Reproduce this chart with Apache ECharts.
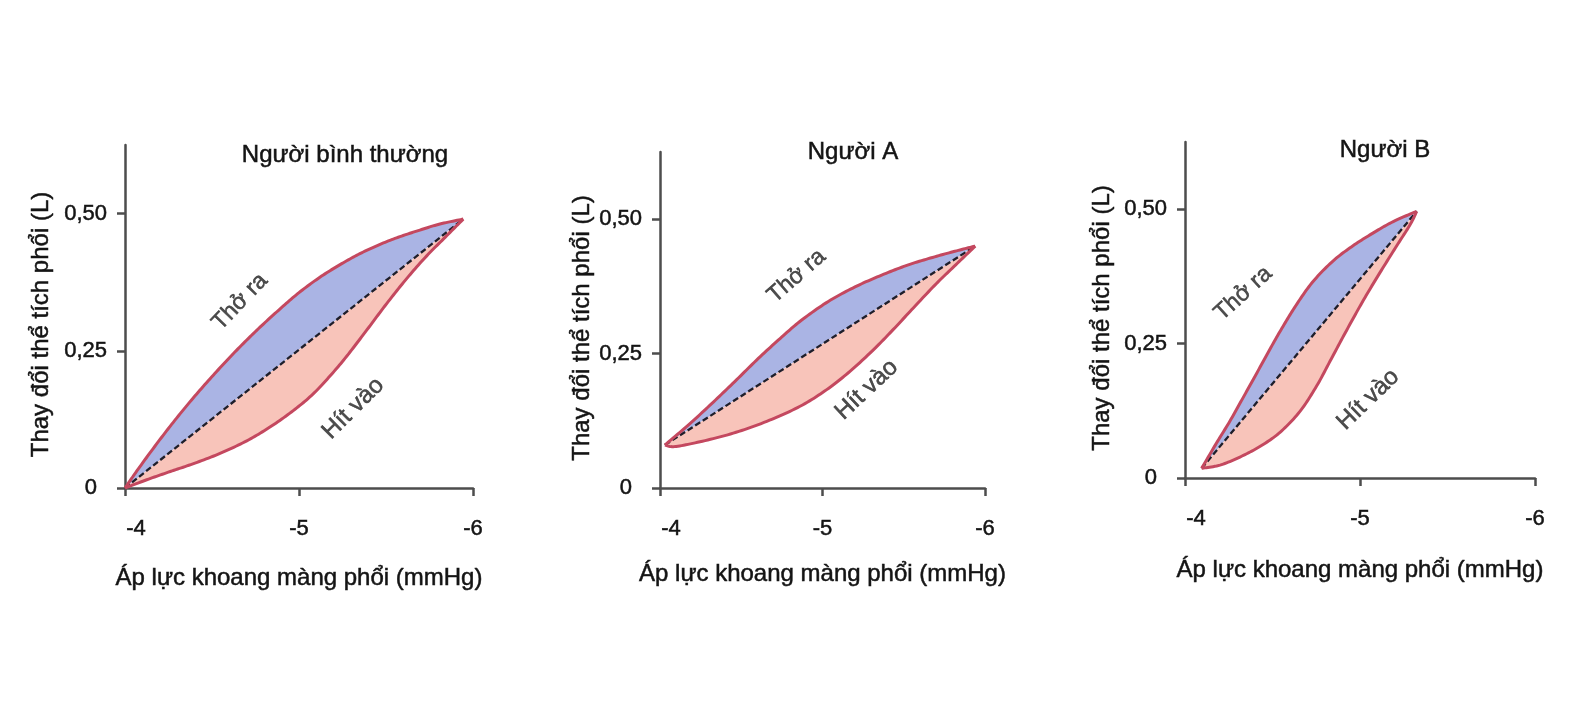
<!DOCTYPE html>
<html><head><meta charset="utf-8">
<script src="https://cdn.jsdelivr.net/npm/echarts@6/dist/echarts.min.js"></script>
<style>html,body{margin:0;padding:0;background:#fff}#c{width:1571px;height:703px}</style>
</head><body><div id="c"></div>
<script>
// ---------- data ----------
const xTicks = [-4, -5, -6];
const yTicks = [0, 0.25, 0.5];
const panelTitles = ['Người bình thường', 'Người A', 'Người B'];
const xAxisTitle = 'Áp lực khoang màng phổi (mmHg)';
const yAxisTitle = 'Thay đổi thể tích phổi (L)';
const curveLabels = ['Thở ra', 'Hít vào'];

// Người bình thường
const normalExhale = [[-4.0,0.0],[-4.086,0.039],[-4.2,0.088],[-4.316,0.135],[-4.43,0.178],[-4.546,0.219],[-4.66,0.257],[-4.776,0.293],[-4.89,0.326],[-5.0,0.356],[-5.12,0.384],[-5.236,0.407],[-5.35,0.427],[-5.466,0.444],[-5.58,0.458],[-5.695,0.470],[-5.81,0.481],[-5.944,0.490]];
const normalInhale = [[-4.0,0.0],[-4.125,0.015],[-4.26,0.030],[-4.39,0.044],[-4.546,0.063],[-4.70,0.086],[-4.833,0.111],[-4.967,0.141],[-5.08,0.171],[-5.178,0.204],[-5.274,0.240],[-5.39,0.288],[-5.504,0.336],[-5.62,0.382],[-5.734,0.423],[-5.85,0.460],[-5.944,0.490]];
const normalLabelPos = [[-4.661,0.339],[-5.312,0.145]];

// Người A
const aExhale = [[-4.03,0.080],[-4.174,0.117],[-4.318,0.157],[-4.46,0.198],[-4.605,0.241],[-4.75,0.281],[-4.87,0.312],[-5.036,0.347],[-5.2,0.374],[-5.364,0.396],[-5.528,0.415],[-5.69,0.430],[-5.836,0.442],[-5.94,0.450]];
const aInhale = [[-4.03,0.080],[-4.09,0.077],[-4.246,0.086],[-4.451,0.102],[-4.657,0.124],[-4.862,0.152],[-5.026,0.183],[-5.169,0.217],[-5.313,0.257],[-5.436,0.295],[-5.559,0.335],[-5.70,0.380],[-5.83,0.418],[-5.94,0.450]];
const aLabelPos = [[-4.841,0.394],[-5.272,0.183]];

// Người B
const bExhale = [[-4.095,0.018],[-4.18,0.065],[-4.257,0.106],[-4.333,0.150],[-4.41,0.195],[-4.486,0.240],[-4.56,0.282],[-4.64,0.324],[-4.733,0.366],[-4.847,0.404],[-4.96,0.432],[-5.076,0.456],[-5.19,0.477],[-5.324,0.496]];
const bInhale = [[-4.095,0.018],[-4.2,0.024],[-4.314,0.039],[-4.43,0.059],[-4.543,0.085],[-4.657,0.124],[-4.752,0.171],[-4.83,0.218],[-4.924,0.275],[-5.02,0.331],[-5.114,0.382],[-5.21,0.432],[-5.286,0.471],[-5.324,0.496]];
const bLabelPos = [[-4.333,0.343],[-5.047,0.146]];

// ---------- style ----------
const FONT = 'Liberation Sans, Arial, sans-serif';
const TXT = '#141414';
const AXIS = '#4d4d4d';
const BLUE = '#aab4e4';
const PINK = '#f8c4ba';
const RED = '#c4485f';
const heavy = {textBorderColor: TXT, textBorderWidth: 0.5};

const panels = [
  {grid:{left:125, top:145, width:348, height:343}, exhale:normalExhale, inhale:normalInhale, lab:normalLabelPos, rot:[46,45], xGap:78, yGap:72, title:{left:345, top:143}},
  {grid:{left:660, top:152, width:325, height:336}, exhale:aExhale, inhale:aInhale, lab:aLabelPos, rot:[41,43], xGap:74, yGap:66, title:{left:853, top:140}},
  {grid:{left:1185, top:142, width:350, height:336}, exhale:bExhale, inhale:bInhale, lab:bLabelPos, rot:[42,44], xGap:80, yGap:71, title:{left:1385, top:138}}
];

function spline(pts) {
  const out = [pts[0]];
  const n = pts.length, steps = 12;
  for (let i = 0; i < n - 1; i++) {
    const p0 = pts[Math.max(i - 1, 0)], p1 = pts[i], p2 = pts[i + 1], p3 = pts[Math.min(i + 2, n - 1)];
    for (let t = 1; t <= steps; t++) {
      const s = t / steps, s2 = s * s, s3 = s2 * s;
      const f = k => 0.5 * (2 * p1[k] + (-p0[k] + p2[k]) * s + (2 * p0[k] - 5 * p1[k] + 4 * p2[k] - p3[k]) * s2 + (-p0[k] + 3 * p1[k] - 3 * p2[k] + p3[k]) * s3);
      out.push([f(0), f(1)]);
    }
  }
  return out;
}

const option = {
  backgroundColor: '#fff',
  animation: false,
  title: panels.map((p, i) => ({
    text: panelTitles[i], left: p.title.left, top: p.title.top, textAlign: 'center', padding: 0,
    textStyle: Object.assign({fontFamily: FONT, fontSize: 24, fontWeight: 'normal', color: TXT}, heavy)
  })),
  grid: panels.map(p => Object.assign({outerBoundsMode: 'none', containLabel: false}, p.grid)),
  xAxis: panels.map((p, i) => ({
    type: 'value', gridIndex: i, inverse: true, min: -6, max: -4, interval: 1,
    name: xAxisTitle, nameLocation: 'middle', nameGap: p.xGap,
    nameTextStyle: Object.assign({fontFamily: FONT, fontSize: 24, color: TXT}, heavy),
    splitLine: {show: false},
    axisLine: {show: true, onZero: false, lineStyle: {color: AXIS, width: 2.5}},
    axisTick: {show: true, length: 8, lineStyle: {color: AXIS, width: 2.5}, customValues: xTicks},
    axisLabel: Object.assign({margin: 30, fontFamily: FONT, fontSize: 22, color: TXT, customValues: xTicks,
      formatter: v => v === -4 ? '{a|-4}' : String(v),
      rich: {a: Object.assign({padding: [0, 0, 0, 22], fontFamily: FONT, fontSize: 22, color: TXT}, heavy)}}, heavy)
  })),
  yAxis: panels.map((p, i) => ({
    type: 'value', gridIndex: i, min: 0, max: 0.625,
    name: yAxisTitle, nameLocation: 'middle', nameGap: p.yGap,
    nameTextStyle: Object.assign({fontFamily: FONT, fontSize: 24, color: TXT, padding: [0, 16, 0, 0]}, heavy),
    splitLine: {show: false},
    axisLine: {show: true, onZero: false, lineStyle: {color: AXIS, width: 2.5}},
    axisTick: {show: true, length: 8, lineStyle: {color: AXIS, width: 2.5}, customValues: yTicks},
    axisLabel: Object.assign({margin: 18, fontFamily: FONT, fontSize: 22, color: TXT, customValues: yTicks,
      formatter: v => v === 0 ? '{z|0}' : v.toFixed(2).replace('.', ','),
      rich: {z: Object.assign({padding: [0, 10, 0, 0], fontFamily: FONT, fontSize: 22, color: TXT}, heavy)}}, heavy)
  })),
  series: []
};

panels.forEach((p, i) => {
  option.series.push({
    type: 'custom', xAxisIndex: i, yAxisIndex: i, data: [0], silent: true, z: 2, clip: false,
    renderItem: function (params, api) {
      const up = spline(p.exhale.map(d => api.coord(d)));
      const lo = spline(p.inhale.map(d => api.coord(d)));
      const s = up[0], e = up[up.length - 1];
      return {type: 'group', children: [
        {type: 'polygon', shape: {points: up}, style: {fill: BLUE, stroke: 'none'}},
        {type: 'polygon', shape: {points: lo}, style: {fill: PINK, stroke: 'none'}},
        {type: 'line', shape: {x1: s[0], y1: s[1], x2: e[0], y2: e[1]}, style: {stroke: '#1e1e2a', lineWidth: 2.3, lineDash: [6, 3], fill: 'none'}},
        {type: 'polyline', shape: {points: up}, style: {stroke: RED, lineWidth: 3, fill: 'none', lineJoin: 'round'}},
        {type: 'polyline', shape: {points: lo}, style: {stroke: RED, lineWidth: 3, fill: 'none', lineJoin: 'round'}}
      ]};
    }
  });
  option.series.push({
    type: 'scatter', xAxisIndex: i, yAxisIndex: i, symbolSize: 1, silent: true, z: 5,
    itemStyle: {color: 'transparent'},
    data: p.lab.map((d, k) => ({
      value: d, name: curveLabels[k],
      label: {rotate: p.rot[k], fontSize: k === 0 ? 23 : 24}
    })),
    label: {show: true, position: 'inside', formatter: '{b}', fontFamily: FONT, color: '#202020', textBorderColor: '#202020', textBorderWidth: 0.5}
  });
});

const chart = echarts.init(document.getElementById('c'), null, {renderer: 'canvas'});
chart.setOption(option);
</script></body></html>
